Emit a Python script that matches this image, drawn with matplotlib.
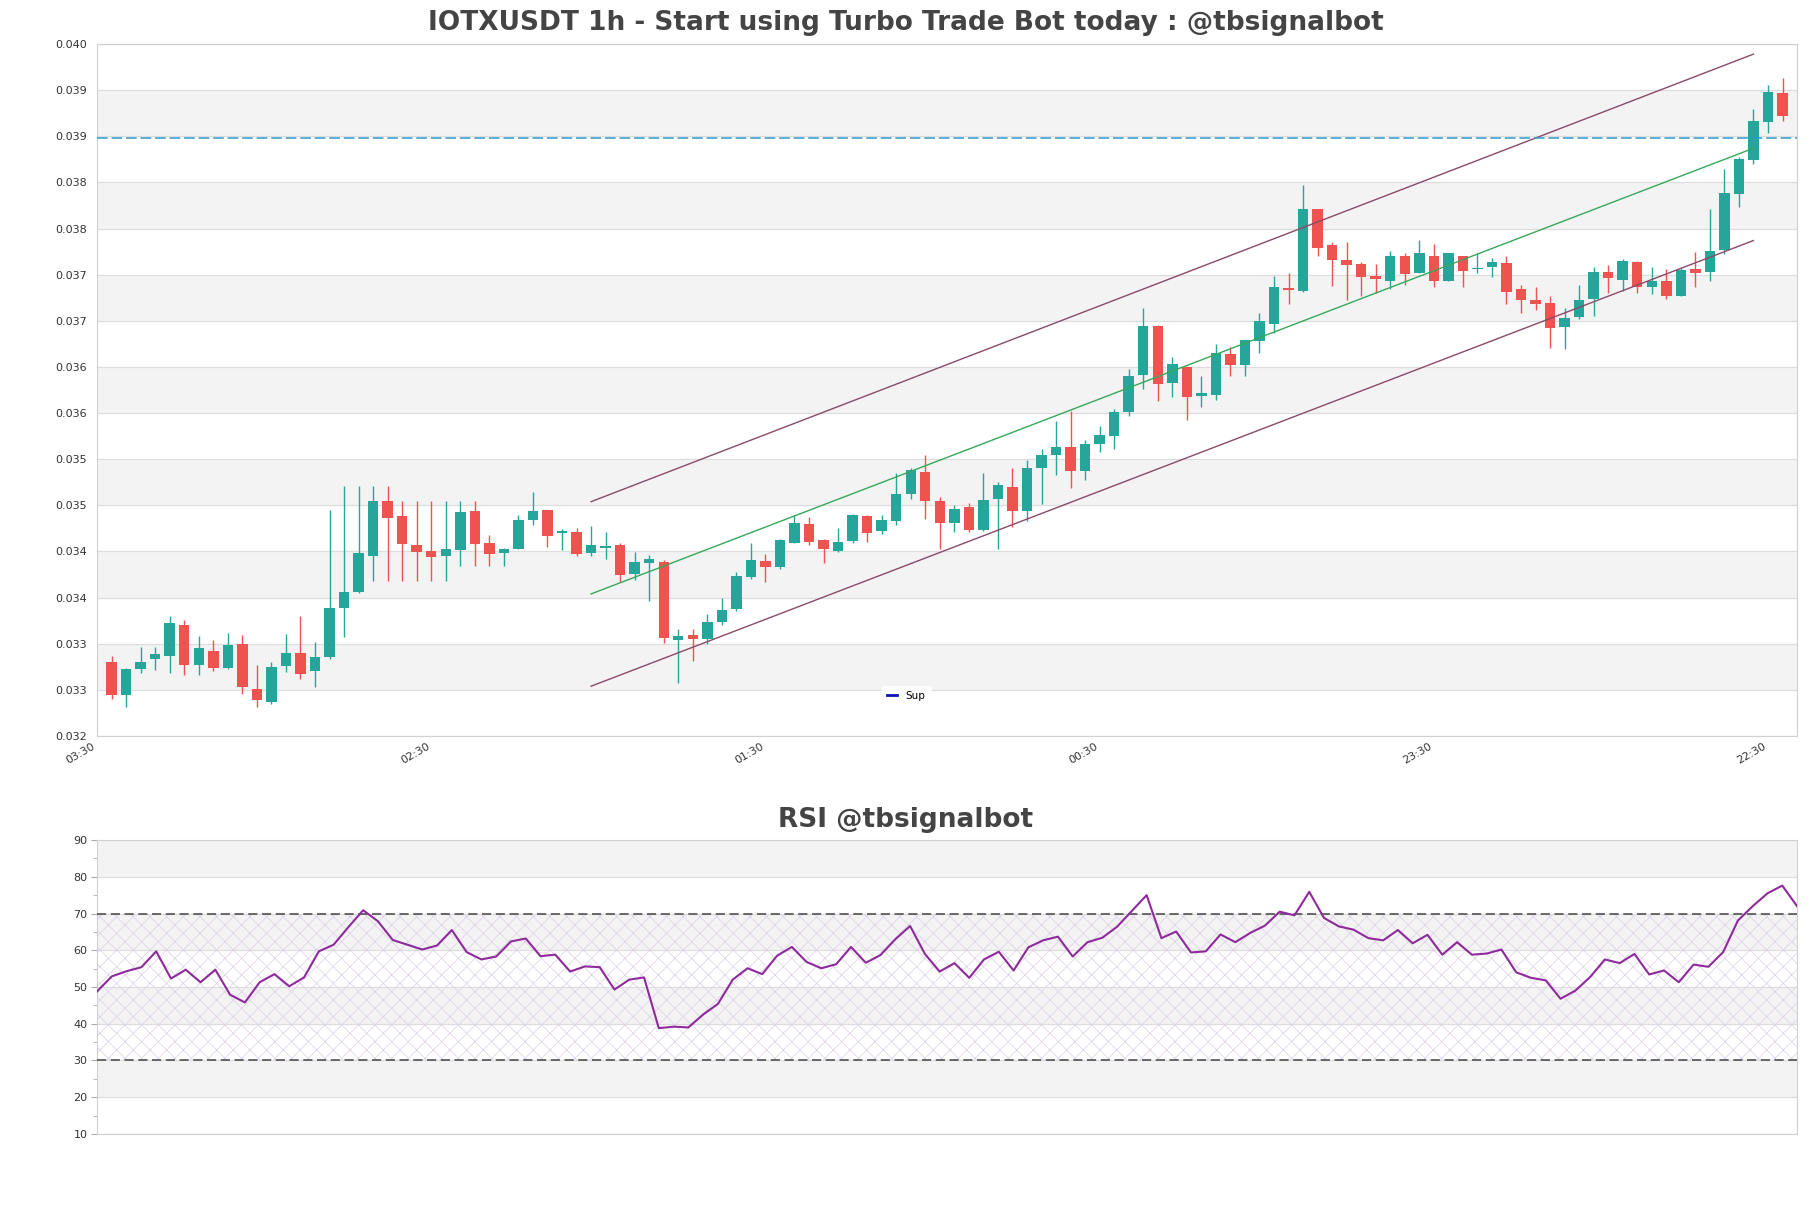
import matplotlib
matplotlib.use("Agg")
import matplotlib.pyplot as plt
import numpy as np

# ---------------- data ----------------
opens = [0.03330, 0.03295, 0.03323, 0.03333, 0.03337, 0.03370, 0.03327, 0.03342, 0.03324, 0.03350,
         0.03301, 0.03287, 0.03326, 0.03340, 0.03321, 0.03336, 0.03389, 0.03406, 0.03445, 0.03505,
         0.03488, 0.03457, 0.03450, 0.03445, 0.03452, 0.03494, 0.03459, 0.03448, 0.03453, 0.03484,
         0.03495, 0.03470, 0.03471, 0.03448, 0.03454, 0.03457, 0.03426, 0.03437, 0.03439, 0.03354,
         0.03359, 0.03355, 0.03374, 0.03388, 0.03422, 0.03440, 0.03433, 0.03459, 0.03480, 0.03462,
         0.03450, 0.03461, 0.03488, 0.03472, 0.03483, 0.03512, 0.03536, 0.03505, 0.03481, 0.03498,
         0.03473, 0.03507, 0.03520, 0.03494, 0.03541, 0.03555, 0.03563, 0.03537, 0.03567, 0.03575,
         0.03601, 0.03641, 0.03694, 0.03633, 0.03650, 0.03618, 0.03620, 0.03664, 0.03652, 0.03678,
         0.03697, 0.03736, 0.03732, 0.03821, 0.03782, 0.03766, 0.03762, 0.03749, 0.03743, 0.03770,
         0.03752, 0.03770, 0.03743, 0.03770, 0.03756, 0.03758, 0.03763, 0.03735, 0.03722, 0.03719,
         0.03693, 0.03704, 0.03724, 0.03753, 0.03744, 0.03764, 0.03737, 0.03743, 0.03727, 0.03756,
         0.03753, 0.03777, 0.03837, 0.03874, 0.03915, 0.03947]
highs = [0.03337, 0.03324, 0.03346, 0.03347, 0.03380, 0.03376, 0.03358, 0.03354, 0.03362, 0.03360,
         0.03327, 0.03330, 0.03361, 0.03380, 0.03352, 0.03495, 0.03521, 0.03521, 0.03521, 0.03521,
         0.03505, 0.03505, 0.03505, 0.03505, 0.03505, 0.03505, 0.03468, 0.03454, 0.03489, 0.03515,
         0.03495, 0.03474, 0.03475, 0.03478, 0.03471, 0.03459, 0.03449, 0.03446, 0.03441, 0.03366,
         0.03366, 0.03382, 0.03400, 0.03428, 0.03459, 0.03447, 0.03463, 0.03489, 0.03487, 0.03464,
         0.03475, 0.03491, 0.03489, 0.03489, 0.03535, 0.03541, 0.03555, 0.03509, 0.03500, 0.03503,
         0.03535, 0.03525, 0.03541, 0.03549, 0.03561, 0.03591, 0.03602, 0.03571, 0.03586, 0.03604,
         0.03648, 0.03714, 0.03695, 0.03661, 0.03651, 0.03640, 0.03675, 0.03672, 0.03679, 0.03708,
         0.03749, 0.03752, 0.03847, 0.03821, 0.03785, 0.03785, 0.03764, 0.03762, 0.03776, 0.03773,
         0.03788, 0.03783, 0.03773, 0.03770, 0.03774, 0.03768, 0.03770, 0.03739, 0.03737, 0.03727,
         0.03714, 0.03739, 0.03758, 0.03761, 0.03767, 0.03765, 0.03758, 0.03756, 0.03757, 0.03775,
         0.03821, 0.03864, 0.03878, 0.03929, 0.03955, 0.03963]
lows = [0.03290, 0.03281, 0.03318, 0.03322, 0.03318, 0.03316, 0.03316, 0.03321, 0.03323, 0.03296,
        0.03282, 0.03285, 0.03319, 0.03312, 0.03303, 0.03333, 0.03357, 0.03405, 0.03418, 0.03418,
        0.03418, 0.03418, 0.03418, 0.03418, 0.03434, 0.03434, 0.03434, 0.03434, 0.03453, 0.03479,
        0.03455, 0.03452, 0.03445, 0.03445, 0.03442, 0.03417, 0.03419, 0.03396, 0.03351, 0.03308,
        0.03331, 0.03350, 0.03370, 0.03385, 0.03420, 0.03417, 0.03431, 0.03459, 0.03457, 0.03438,
        0.03449, 0.03459, 0.03460, 0.03469, 0.03479, 0.03507, 0.03485, 0.03453, 0.03471, 0.03471,
        0.03472, 0.03453, 0.03477, 0.03483, 0.03501, 0.03533, 0.03519, 0.03527, 0.03558, 0.03561,
        0.03597, 0.03626, 0.03613, 0.03617, 0.03593, 0.03607, 0.03614, 0.03640, 0.03640, 0.03665,
        0.03687, 0.03718, 0.03731, 0.03770, 0.03738, 0.03723, 0.03727, 0.03730, 0.03735, 0.03739,
        0.03752, 0.03737, 0.03743, 0.03737, 0.03752, 0.03748, 0.03718, 0.03708, 0.03712, 0.03670,
        0.03669, 0.03702, 0.03705, 0.03730, 0.03732, 0.03730, 0.03729, 0.03724, 0.03727, 0.03737,
        0.03743, 0.03772, 0.03823, 0.03870, 0.03903, 0.03917]
closes = [0.03294, 0.03323, 0.03330, 0.03339, 0.03373, 0.03327, 0.03345, 0.03324, 0.03349, 0.03303,
          0.03289, 0.03325, 0.03340, 0.03317, 0.03336, 0.03389, 0.03406, 0.03448, 0.03505, 0.03486,
          0.03458, 0.03449, 0.03444, 0.03453, 0.03493, 0.03458, 0.03447, 0.03453, 0.03484, 0.03494,
          0.03467, 0.03472, 0.03447, 0.03457, 0.03456, 0.03424, 0.03439, 0.03442, 0.03356, 0.03358,
          0.03355, 0.03374, 0.03387, 0.03423, 0.03441, 0.03433, 0.03462, 0.03481, 0.03460, 0.03453,
          0.03460, 0.03489, 0.03470, 0.03484, 0.03512, 0.03538, 0.03505, 0.03481, 0.03496, 0.03473,
          0.03506, 0.03522, 0.03494, 0.03540, 0.03555, 0.03563, 0.03537, 0.03566, 0.03576, 0.03601,
          0.03640, 0.03694, 0.03631, 0.03653, 0.03617, 0.03622, 0.03665, 0.03652, 0.03679, 0.03700,
          0.03737, 0.03733, 0.03821, 0.03779, 0.03766, 0.03761, 0.03748, 0.03745, 0.03770, 0.03751,
          0.03774, 0.03743, 0.03773, 0.03754, 0.03757, 0.03764, 0.03731, 0.03722, 0.03718, 0.03692,
          0.03703, 0.03723, 0.03753, 0.03746, 0.03765, 0.03737, 0.03743, 0.03727, 0.03755, 0.03752,
          0.03776, 0.03839, 0.03875, 0.03916, 0.03948, 0.03922]

rsi = [48.8, 52.9, 54.3, 55.4, 59.7, 52.3, 54.7, 51.3, 54.7, 47.9,
       45.8, 51.3, 53.5, 50.2, 52.6, 59.7, 61.5, 66.3, 70.9, 67.9,
       62.8, 61.5, 60.2, 61.3, 65.5, 59.5, 57.5, 58.3, 62.4, 63.2,
       58.4, 58.8, 54.2, 55.6, 55.4, 49.3, 52.0, 52.6, 38.8, 39.2,
       39.0, 42.5, 45.4, 52.0, 55.1, 53.5, 58.5, 60.9, 56.8, 55.1,
       56.2, 60.9, 56.6, 58.7, 63.0, 66.6, 59.0, 54.2, 56.5, 52.5,
       57.5, 59.6, 54.5, 60.8, 62.7, 63.7, 58.3, 62.2, 63.4, 66.4,
       70.7, 75.0, 63.3, 65.1, 59.4, 59.7, 64.3, 62.2, 64.7, 66.7,
       70.5, 69.5, 75.9, 68.8, 66.5, 65.6, 63.3, 62.7, 65.5, 61.9,
       64.2, 58.8, 62.2, 58.8, 59.1, 60.2, 54.0, 52.5, 51.8, 46.8,
       49.0, 52.7, 57.5, 56.5, 59.0, 53.4, 54.5, 51.3, 56.1, 55.5,
       59.5, 68.1, 72.0, 75.5, 77.6, 72.0]

# channel lines: [start index, end index], [start price, end price]
channel_x = [33, 113]
upper_line = [0.03504, 0.03989]
middle_line = [0.03404, 0.03887]
lower_line = [0.03304, 0.03787]
resistance = 0.03898

price_ticks = [0.0325, 0.0330, 0.0335, 0.0340, 0.0345, 0.0350, 0.0355, 0.0360,
               0.0365, 0.0370, 0.0375, 0.0380, 0.0385, 0.0390, 0.0395, 0.0400]
price_tick_labels = ["0.032", "0.033", "0.033", "0.034", "0.034", "0.035", "0.035", "0.036",
                     "0.036", "0.037", "0.037", "0.038", "0.038", "0.039", "0.039", "0.040"]
x_tick_pos = [-1, 22, 45, 68, 91, 114]
x_tick_labels = ["03:30", "02:30", "01:30", "00:30", "23:30", "22:30"]
rsi_ticks = [10, 20, 30, 40, 50, 60, 70, 80, 90]

title = "IOTXUSDT 1h - Start using Turbo Trade Bot today : @tbsignalbot"
rsi_title = "RSI @tbsignalbot"

# ---------------- styling ----------------
UP = "#26a69a"
DOWN = "#ef5350"
BAND = "#f3f3f3"
GRID = "#dddddd"
SPINE = "#d0d0d0"
TXT = "#333333"

fig = plt.figure(figsize=(18.11, 12.08), dpi=100)
ax = fig.add_axes([0.0536, 0.3907, 0.9387, 0.5729])
ax2 = fig.add_axes([0.0536, 0.0613, 0.9387, 0.2433])

o = np.array(opens); h = np.array(highs); l = np.array(lows); c = np.array(closes)
x = np.arange(len(o))
up = c >= o
colors = np.where(up, UP, DOWN)

# background bands
for k in range(1, len(price_ticks) - 1, 2):
    ax.axhspan(price_ticks[k], price_ticks[k + 1], color=BAND, zorder=0, lw=0)
for t in price_ticks:
    ax.axhline(t, color=GRID, lw=0.9, zorder=0.5)

ax.vlines(x, l, h, colors=colors, lw=1.0, zorder=2)
body_h = np.maximum(np.abs(c - o), 0.000012)
ax.bar(x, body_h, bottom=np.minimum(o, c), width=0.72, color=colors, zorder=3, lw=0)

ax.plot(channel_x, upper_line, color="#8a4a68", lw=1.0, zorder=4)
ax.plot(channel_x, lower_line, color="#8a4a68", lw=1.0, zorder=4)
ax.plot(channel_x, middle_line, color="#36a85a", lw=1.0, zorder=4)
ax.axhline(resistance, color="#2a9ad2", lw=1.1, ls=(0, (7, 2.5)), zorder=4)
ax.plot([], [], color="#1212b0", lw=2, label="Sup")

leg = ax.legend(loc="center", bbox_to_anchor=(0.476, 0.058), fontsize=7.5,
                frameon=True, handlelength=1.0, borderpad=0.5)
leg.get_frame().set_facecolor("white")
leg.get_frame().set_edgecolor("white")

ax.set_xlim(-1, len(o))
ax.set_ylim(price_ticks[0], price_ticks[-1])
ax.set_yticks(price_ticks)
ax.set_yticklabels(price_tick_labels)
ax.set_xticks(x_tick_pos)
ax.set_xticklabels(x_tick_labels, rotation=30, ha="right")
ax.tick_params(axis="y", length=0, labelsize=8, labelcolor=TXT, pad=7)
ax.tick_params(axis="x", length=0, labelsize=8, labelcolor=TXT, pad=4)
for s in ax.spines.values():
    s.set_color(SPINE)

# ---------------- RSI ----------------
xr = np.arange(len(rsi))
for lo, hi in [(20, 30), (40, 50), (60, 70), (80, 90)]:
    ax2.axhspan(lo, hi, color=BAND, zorder=0, lw=0)
for t in rsi_ticks:
    ax2.axhline(t, color=GRID, lw=0.9, zorder=0.5)
plt.rcParams["hatch.linewidth"] = 0.5
ax2.fill_between([0, len(rsi) - 1], 30, 70, facecolor="none", edgecolor="#dccfe6",
                 hatch="xx", lw=0, zorder=1)
ax2.axhline(70, color="#444444", lw=1.1, ls=(0, (6, 3)), zorder=3)
ax2.axhline(30, color="#444444", lw=1.1, ls=(0, (6, 3)), zorder=3)
ax2.plot(xr, rsi, color="#8e2a9c", lw=1.5, zorder=4)
ax2.set_xlim(0, len(rsi) - 1)
ax2.set_ylim(10, 90)
ax2.set_yticks(rsi_ticks)
ax2.set_yticks([15, 25, 35, 45, 55, 65, 75, 85], minor=True)
ax2.set_xticks([])
ax2.tick_params(axis="y", which="major", length=4, color="#aaaaaa", labelsize=8,
                labelcolor=TXT, pad=3)
ax2.tick_params(axis="y", which="minor", length=3, color="#aaaaaa")
for s in ax2.spines.values():
    s.set_color(SPINE)

fig.text(0.5, 1 - 23 / 1208, title, ha="center", va="center", fontsize=19,
         fontweight="bold", color="#444444")
fig.text(0.5, 1 - 820 / 1208, rsi_title, ha="center", va="center", fontsize=19,
         fontweight="bold", color="#444444")

fig.savefig("out.png", dpi=100, facecolor="white")
